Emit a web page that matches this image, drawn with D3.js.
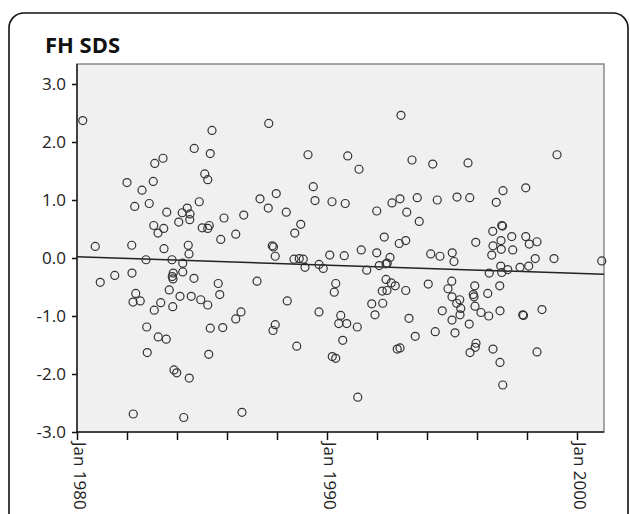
<!DOCTYPE html>
<html>
<head>
<meta charset="utf-8">
<script src="https://cdn.jsdelivr.net/npm/d3@7"></script>
<style>
  body { margin: 0; background: #fff; }
  text { font-family: "Open Sans", sans-serif; }
</style>
</head>
<body>
<div id="chart"></div>
<script>
// decimal year of each measurement
var dates = [
  1980.23, 1987.67, 1985.40, 1984.69, 1985.33, 1983.44, 1983.11, 1989.24, 1990.83, 1982.00,
  1983.05, 1982.60, 1985.11, 1985.23, 1989.45, 1982.31, 1982.89, 1983.59, 1984.41, 1984.21,
  1984.52, 1984.89, 1984.51, 1984.07, 1983.07, 1983.47, 1983.24, 1985.01, 1985.29, 1985.23,
  1985.88, 1986.67, 1985.75, 1986.35, 1987.32, 1987.65, 1987.97, 1988.37, 1989.52, 1990.20,
  1990.73, 1988.95, 1988.71, 1980.73, 1982.19, 1983.48, 1984.45, 1984.48, 1987.81, 1987.86,
  1987.93, 1988.68, 1988.89, 1989.05, 1990.11, 1990.69, 1982.76, 1983.80, 1984.23, 1984.23,
  1983.85, 1983.81, 1983.84, 1984.68, 1980.93, 1981.51, 1982.20, 1982.35, 1982.24, 1982.53,
  1983.35, 1983.09, 1983.69, 1983.83, 1984.12, 1984.57, 1984.95, 1985.23, 1985.65, 1985.71,
  1986.56, 1986.35, 1987.20, 1985.33, 1985.83, 1982.79, 1983.25, 1983.57, 1982.81, 1985.27,
  1983.88, 1983.99, 1984.49, 1982.25, 1984.27, 1986.60, 1987.93, 1987.84, 1988.41, 1988.79,
  1989.12, 1989.68, 1989.85, 1990.35, 1990.29, 1989.68, 1990.55, 1990.47, 1990.79, 1990.63,
  1990.21, 1990.35, 1992.96, 1991.28, 1993.40, 1994.23, 1995.64, 1999.20, 1997.95, 1997.04,
  1996.77, 1991.99, 1992.60, 1992.92, 1993.19, 1993.61, 1993.69, 1994.41, 1995.20, 1995.71,
  1992.29, 1992.89, 1993.15, 1991.37, 1991.99, 1992.52, 1994.15, 1994.52, 1995.01, 1995.95,
  1996.63, 1996.99, 1997.02, 1997.39, 1996.96, 1996.64, 1996.97, 1997.43, 1997.95, 1998.09,
  1998.40, 1996.59, 1998.33, 1999.08, 2000.99, 1995.08, 1991.59, 1992.09, 1992.41, 1992.36,
  1996.95, 1996.49, 1996.99, 1997.23, 1997.72, 1998.07, 1992.36, 1992.57, 1992.73, 1992.21,
  1992.40, 1993.15, 1994.05, 1994.99, 1994.84, 1995.00, 1995.31, 1995.19, 1995.35, 1995.32,
  1995.91, 1995.85, 1995.88, 1995.92, 1996.43, 1996.91, 1996.16, 1996.47, 1996.92, 1997.83,
  1997.86, 1998.60, 1991.79, 1992.23, 1991.92, 1993.28, 1994.61, 1995.00, 1995.69, 1994.33,
  1995.12, 1993.53, 1991.21, 1992.81, 1992.92, 1995.96, 1995.93, 1995.72, 1996.64, 1996.92,
  1998.40, 1997.03, 1991.23
];

// FH SDS for each date
var fhSds = [
   2.37,  2.32,  2.20,  1.89,  1.80,  1.72,  1.63,  1.78,  1.76,  1.30,
   1.32,  1.17,  1.45,  1.35,  1.23,  0.89,  0.94,  0.79,  0.86,  0.78,
   0.76,  0.97,  0.66,  0.62,  0.56,  0.51,  0.43,  0.52,  0.56,  0.51,
   0.69,  0.74,  0.32,  0.41,  1.02,  0.86,  1.11,  0.79,  0.99,  0.97,
   0.94,  0.58,  0.43,  0.20,  0.22,  0.16,  0.22,  0.07,  0.21,  0.19,
   0.03, -0.02, -0.01, -0.02,  0.05,  0.04, -0.03, -0.03, -0.09, -0.24,
  -0.26, -0.32, -0.36, -0.35, -0.42, -0.30, -0.26, -0.61, -0.76, -0.74,
  -0.77, -0.90, -0.55, -0.84, -0.66, -0.66, -0.72, -0.81, -0.44, -0.63,
  -0.93, -1.05, -0.40, -1.21, -1.20, -1.19, -1.36, -1.40, -1.63, -1.66,
  -1.93, -1.98, -2.07, -2.69, -2.75, -2.66, -1.15, -1.25, -0.74, -1.52,
  -0.16, -0.11, -0.18, -0.44, -0.59, -0.93, -0.99, -1.13, -1.13, -1.42,
  -1.70, -1.73,  2.46,  1.53,  1.69,  1.62,  1.64,  1.78,  1.21,  1.16,
   0.96,  0.81,  0.95,  1.02,  0.79,  1.04,  0.63,  1.00,  1.05,  1.04,
   0.36,  0.25,  0.30,  0.14,  0.09,  0.01,  0.07,  0.03,  0.09,  0.27,
   0.46,  0.56,  0.55,  0.37,  0.30,  0.21,  0.15,  0.14,  0.37,  0.24,
   0.28,  0.05, -0.01, -0.01, -0.05, -0.06, -0.21, -0.13, -0.09, -0.10,
  -0.14, -0.26, -0.25, -0.20, -0.16, -0.14, -0.37, -0.43, -0.48, -0.57,
  -0.56, -0.56, -0.45, -0.40, -0.53, -0.67, -0.72, -0.78, -0.87, -0.98,
  -0.48, -0.63, -0.67, -0.83, -0.61, -0.48, -0.94, -1.00, -0.91, -0.98,
  -0.99, -0.89, -0.79, -0.78, -0.98, -1.04, -0.91, -1.07, -1.14, -1.27,
  -1.29, -1.35, -1.19, -1.57, -1.55, -1.47, -1.54, -1.63, -1.57, -1.80,
  -1.62, -2.19, -2.40
];

// fitted trend line, read at the two ends of the plot
var fitYears = [1980, 2001.08];
var fitValues = [0.02, -0.28];

var yTicks = [-3, -2, -1, 0, 1, 2, 3];
var xTicks = [1980, 1982, 1984, 1986, 1988, 1990, 1992, 1994, 1996, 1998, 2000];
var xLabelYears = [1980, 1990, 2000];
var xDomain = [1980, 2001.08];
var yDomain = [-3, 3];

var svgWidth = 630;
var svgHeight = 514;

var plot = { left: 77, right: 604, top: 64, bottom: 432 };

var svg = d3.select("#chart")
  .append("svg")
  .attr("width", svgWidth)
  .attr("height", svgHeight);

// outer frame (runs off the bottom of the picture)
svg.append("rect")
  .attr("x", 9)
  .attr("y", 13)
  .attr("width", 619)
  .attr("height", 620)
  .attr("rx", 15)
  .attr("fill", "none")
  .attr("stroke", "#111")
  .attr("stroke-width", 1.6);

svg.append("text")
  .attr("x", 45)
  .attr("y", 53)
  .attr("font-size", 22)
  .attr("font-weight", "bold")
  .attr("fill", "#111")
  .text("FH SDS");

var xScale = d3.scaleLinear().domain(xDomain).range([plot.left, plot.right]);
var yScale = d3.scaleLinear().domain(yDomain).range([plot.bottom, 84]);

svg.append("rect")
  .attr("x", plot.left)
  .attr("y", plot.top)
  .attr("width", plot.right - plot.left)
  .attr("height", plot.bottom - plot.top)
  .attr("fill", "#f0f0f0")
  .attr("stroke", "#8a8a8a")
  .attr("stroke-width", 1.5);

// y axis
var yAxis = svg.append("g")
  .attr("transform", `translate(${plot.left}, 0)`)
  .call(d3.axisLeft(yScale)
    .tickValues(yTicks)
    .tickSize(5)
    .tickPadding(6)
    .tickFormat(d => d.toFixed(1)));
yAxis.select(".domain").remove();
yAxis.selectAll("line").attr("stroke", "#111").attr("stroke-width", 1.5);
yAxis.selectAll("text")
  .attr("font-size", 17)
  .attr("fill", "#222")
  .style("font-family", "'Open Sans', sans-serif");

svg.append("line")
  .attr("x1", plot.left).attr("x2", plot.left)
  .attr("y1", plot.top).attr("y2", plot.bottom)
  .attr("stroke", "#222").attr("stroke-width", 1.5);

// x axis
var xAxis = svg.append("g")
  .attr("transform", `translate(0, ${plot.bottom})`)
  .call(d3.axisBottom(xScale)
    .tickValues(xTicks)
    .tickSize(8)
    .tickFormat(""));
xAxis.select(".domain").remove();
xAxis.selectAll("line").attr("stroke", "#111").attr("stroke-width", 1.5);

svg.append("line")
  .attr("x1", plot.left).attr("x2", plot.right)
  .attr("y1", plot.bottom).attr("y2", plot.bottom)
  .attr("stroke", "#222").attr("stroke-width", 1.5);

svg.append("g")
  .selectAll("text")
  .data(xLabelYears)
  .enter()
  .append("text")
  .attr("transform", d => `translate(${xScale(d)}, ${plot.bottom + 10}) rotate(90)`)
  .attr("dy", 3)
  .attr("font-size", 17)
  .attr("fill", "#222")
  .text(d => "Jan " + d);

// trend line
var fitData = fitYears.map((yr, i) => ({ yr: yr, v: fitValues[i] }));
svg.append("path")
  .datum(fitData)
  .attr("d", d3.line().x(d => xScale(d.yr)).y(d => yScale(d.v)))
  .attr("fill", "none")
  .attr("stroke", "#222")
  .attr("stroke-width", 1.5);

// points
var points = dates.map((yr, i) => ({ yr: yr, v: fhSds[i] }));
svg.append("g")
  .selectAll("circle")
  .data(points)
  .enter()
  .append("circle")
  .attr("cx", d => xScale(d.yr))
  .attr("cy", d => yScale(d.v))
  .attr("r", 4)
  .attr("fill", "none")
  .attr("stroke", "#333")
  .attr("stroke-width", 1.2);
</script>
</body>
</html>
